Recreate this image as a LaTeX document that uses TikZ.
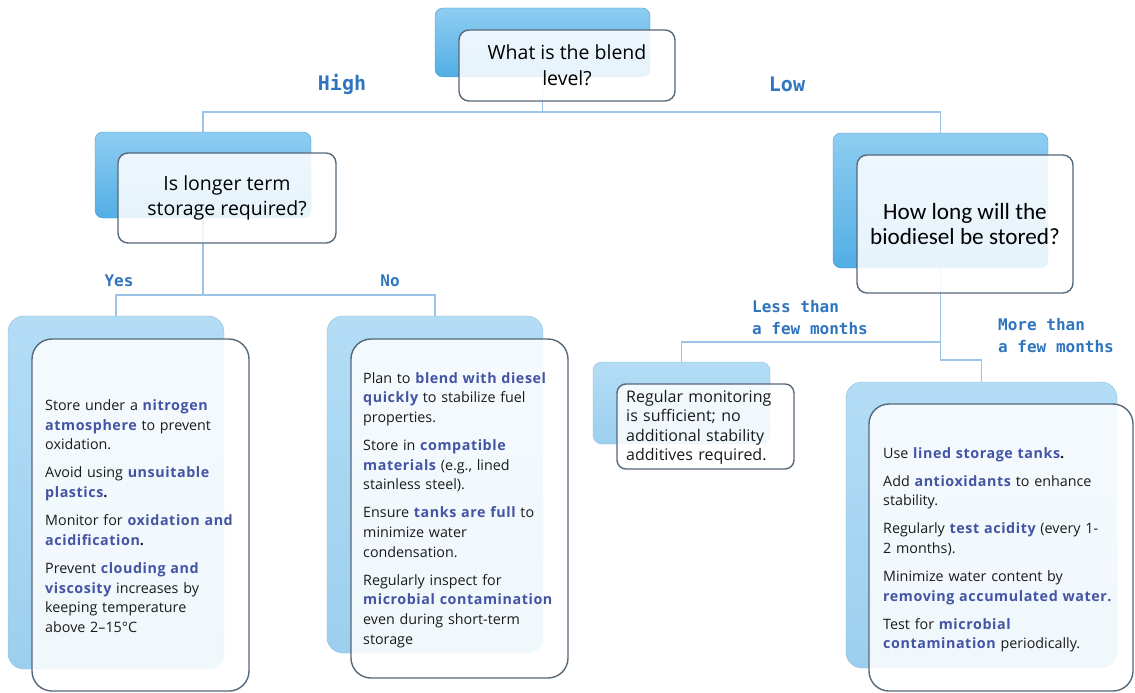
\documentclass[tikz,border=0pt]{standalone}
\usepackage{fontspec}
\setmainfont{Open Sans}
\newfontfamily\calib{Carlito}
\newfontfamily\lblfont{DejaVu Sans Mono Bold}
\definecolor{linec}{HTML}{9DC3E6}
\definecolor{bqtop}{HTML}{8ECDF1}
\definecolor{bqbot}{HTML}{52AEE5}
\definecolor{bltop}{HTML}{B3DDF5}
\definecolor{blbot}{HTML}{9CCFEF}
\definecolor{edge}{HTML}{56687B}
\definecolor{hlc}{HTML}{4454A4}
\definecolor{lblc}{HTML}{2F74BE}
\definecolor{bodyc}{HTML}{1A1A1A}
\newcommand\hib[1]{{\bfseries\addfontfeature{LetterSpace=4}\color{hlc}#1}}
\tikzset{
  conn/.style={draw=linec, line width=1.6pt},
  boxbase/.style={anchor=north west, inner sep=0pt, outer sep=0pt},
  backq/.style={boxbase, rounded corners=8pt, top color=bqtop, bottom color=bqbot, draw=bqbot!90!black, line width=0.4pt},
  backl/.style={boxbase, rounded corners=16pt, top color=bltop, bottom color=blbot, draw=blbot!90!black, line width=0.4pt},
  frontq/.style={boxbase, rounded corners=10pt, draw=edge, line width=1.4pt, fill=white, fill opacity=0.86, text opacity=1, align=center, text=black},
  frontl/.style={boxbase, rounded corners=20pt, draw=edge, line width=1.4pt, fill=white, fill opacity=0.86},
  body/.style={anchor=base west, inner sep=0pt, text width=270pt, align=left, text=bodyc, font=\fontsize{14.3}{19.7}\selectfont},
  lbl/.style={text=lblc, inner sep=0pt, font=\lblfont\fontsize{16}{22}\selectfont},
  biglbl/.style={text=lblc, inner sep=0pt, font=\lblfont\fontsize{20}{24}\selectfont},
}
\begin{document}
\begin{tikzpicture}[x=1pt,y=-1pt]
\useasboundingbox (0,0) rectangle (1135,693);
% back boxes
\node[backq, minimum width=215pt, minimum height=69pt] (q1b) at (435,8) {};
\node[backq, minimum width=216pt, minimum height=86pt] (q2b) at (95,132) {};
\node[backq, minimum width=215pt, minimum height=135pt] (q3b) at (833,133) {};
\node[backl, minimum width=216pt, minimum height=353pt] (l1b) at (8,316) {};
\node[backl, minimum width=216pt, minimum height=337pt] (l2b) at (327,316) {};
\node[backl, rounded corners=9pt, minimum width=177pt, minimum height=82pt] (l3b) at (593,362) {};
\node[backl, minimum width=271pt, minimum height=286pt] (l4b) at (846,382) {};
% connectors
\draw[conn] (q1b.south) -- ++(0,35) -| (q2b.north);
\draw[conn] (q1b.south) -- ++(0,35) -| (q3b.north);
\draw[conn] (q2b.south) -- ++(0,77) -| (l1b.north);
\draw[conn] (q2b.south) -- ++(0,77) -| (l2b.north);
\draw[conn] (q3b.south) -- ++(0,74) -| (l3b.north);
\draw[conn] (q3b.south) -- ++(0,92) -| (l4b.north);
% front boxes
\node[frontq, minimum width=216pt, minimum height=71pt, font=\fontsize{19.5}{26}\selectfont] (q1f) at (459,30) {What is the blend\\level?};
\node[frontq, minimum width=218pt, minimum height=90pt, font=\fontsize{19.5}{24.5}\selectfont] (q2f) at (118,153) {Is longer term\\storage required?};
\node[frontq, minimum width=216pt, minimum height=138pt, font=\calib\fontsize{23.2}{25}\selectfont] (q3f) at (857,155) {How long will the\\biodiesel be stored?};
\node[frontl, minimum width=217pt, minimum height=352pt] (l1f) at (32,339) {};
\node[frontl, minimum width=217pt, minimum height=339pt] (l2f) at (351,339) {};
\node[frontl, rounded corners=9pt, minimum width=177pt, minimum height=85pt] (l3f) at (617,384) {};
\node[frontl, minimum width=264pt, minimum height=287pt] (l4f) at (869,404) {};
% leaf texts
\node[body] (t1) at (45,410.5) {Store under a \hib{nitrogen}\\\hib{atmosphere} to prevent\\oxidation.\\[8.3pt]Avoid using \hib{unsuitable}\\\hib{plastics}\textbf{.}\\[8.3pt]Monitor for \hib{oxidation and}\\\hib{acidification}\textbf{.}\\[8.3pt]Prevent \hib{clouding and}\\\hib{viscosity} increases by\\keeping temperature\\above 2--15°C};
\node[body] (t2) at (363,383) {Plan to \hib{blend with diesel}\\\hib{quickly} to stabilize fuel\\properties.\\[8.3pt]Store in \hib{compatible}\\\hib{materials} (e.g., lined\\stainless steel).\\[8.3pt]Ensure \hib{tanks are full} to\\minimize water\\condensation.\\[8.3pt]Regularly inspect for\\\hib{microbial contamination}\\even during short-term\\storage};
\node[body, font=\fontsize{16}{19.5}\selectfont] (t3) at (626,402) {Regular monitoring\\is sufficient; no\\additional stability\\additives required.};
\node[body] (t4) at (883,458) {Use \hib{lined storage tanks}\textbf{.}\\[8.3pt]Add \hib{antioxidants} to enhance\\stability.\\[8.3pt]Regularly \hib{test acidity} (every 1-\\2 months).\\[8.3pt]Minimize water content by\\\hib{removing accumulated water.}\\[8.3pt]Test for \hib{microbial}\\\hib{contamination} periodically.};
% labels
\node[biglbl] (high) at (342,84) {High};
\node[biglbl] (low) at (787,84) {Low};
\node[lbl] (yes) at (119,281) {Yes};
\node[lbl] (no) at (390,281) {No};
\node[lbl, anchor=base west, align=left] (less) at (752,334) {Less than\\a few months};
\node[lbl, anchor=base west, align=left] (more) at (998,352) {More than\\a few months};
\end{tikzpicture}
\end{document}
